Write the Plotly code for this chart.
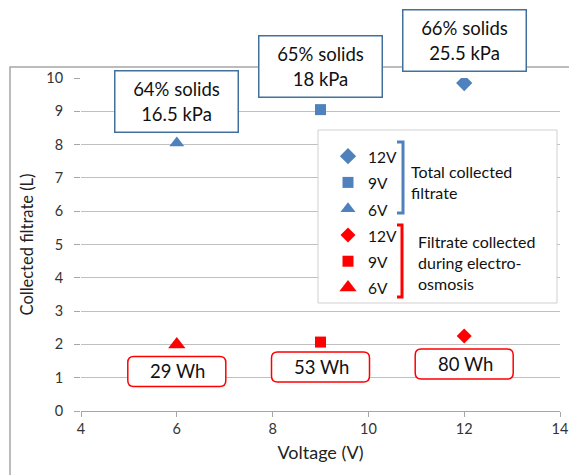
import plotly.graph_objects as go

# ---- data ----
voltages = [6, 9, 12]
total_filtrate = [8.05, 9.05, 9.85]          # L, total collected filtrate
eo_filtrate = [2.0, 2.07, 2.25]              # L, collected during electro-osmosis
voltage_labels = ["6V", "9V", "12V"]
solids_labels = ["64% solids<br>16.5 kPa", "65% solids<br>18 kPa", "66% solids<br>25.5 kPa"]
energy_labels = ["29 Wh", "53 Wh", "80 Wh"]

# ---- styling ----
FONT = "Lato"
BLUE = "#4f81bd"
RED = "#ff0000"
symbols = {"6V": "triangle-up", "9V": "square", "12V": "diamond"}
sizes_blue = {"6V": 13, "9V": 11, "12V": 12.5}
sizes_red = {"6V": 15, "9V": 11, "12V": 11.5}

W, H = 569, 475
ML, MR, MT, MB = 81, 9, 78, 64
PW, PH = W - ML - MR, H - MT - MB


def px2x(px):
    return (px - ML) / PW


def py2y(py):
    return (H - MB - py) / PH


fig = go.Figure()

order = [2, 1, 0]  # legend order 12V, 9V, 6V
for i in order:
    lab = voltage_labels[i]
    fig.add_trace(go.Scatter(
        x=[voltages[i]], y=[total_filtrate[i]], mode="markers",
        marker=dict(symbol=symbols[lab], size=sizes_blue[lab], color=BLUE),
        name=f"<span style='font-size:15.5px'>{lab}</span>"))
for i in order:
    lab = voltage_labels[i]
    fig.add_trace(go.Scatter(
        x=[voltages[i]], y=[eo_filtrate[i]], mode="markers",
        marker=dict(symbol=symbols[lab], size=sizes_red[lab], color=RED),
        name=f"<span style='font-size:15.5px'>{lab}</span>"))

shapes = []
annotations = []

# outer chart frame
shapes.append(dict(type="rect", xref="paper", yref="paper",
                   x0=px2x(10), x1=px2x(590), y0=py2y(500), y1=py2y(67),
                   line=dict(color="#a6a6a6", width=1.5), layer="below"))

# legend box
shapes.append(dict(type="rect", xref="paper", yref="paper",
                   x0=px2x(318), x1=px2x(557), y0=py2y(303), y1=py2y(130),
                   line=dict(color="#d0d0d0", width=1), fillcolor="white", layer="above"))


def bracket(xl, xr, yt, yb):
    return (f"M{px2x(xl)},{py2y(yt)} L{px2x(xr)},{py2y(yt)} "
            f"L{px2x(xr)},{py2y(yb)} L{px2x(xl)},{py2y(yb)}")


shapes.append(dict(type="path", xref="paper", yref="paper", path=bracket(397, 403, 142, 213),
                   line=dict(color=BLUE, width=3), layer="above"))
shapes.append(dict(type="path", xref="paper", yref="paper", path=bracket(397, 402, 225, 297),
                   line=dict(color=RED, width=3), layer="above"))

annotations.append(dict(xref="paper", yref="paper", x=px2x(409), y=py2y(181.5),
                        xanchor="left", yanchor="middle", align="left", showarrow=False,
                        text="Total collected<br>filtrate",
                        font=dict(family=FONT, size=16, color="#111")))
annotations.append(dict(xref="paper", yref="paper", x=px2x(416), y=py2y(262.5),
                        xanchor="left", yanchor="middle", align="left", showarrow=False,
                        text="Filtrate collected<br>during electro-<br>osmosis",
                        font=dict(family=FONT, size=16, color="#111")))

# blue boxed labels above total-filtrate points
blue_shift = [41, 43, 43]
for i in range(3):
    annotations.append(dict(x=voltages[i], y=total_filtrate[i], xref="x", yref="y",
                            yshift=blue_shift[i], showarrow=False, text=solids_labels[i],
                            font=dict(family=FONT, size=18.5, color="#111"),
                            bgcolor="white", bordercolor="#41719c", borderwidth=1.5,
                            width=120, height=58, align="center"))

# red rounded boxes below electro-osmosis points
red_shift = [-27, -25, -28]
hw, hh, r = 49, 15, 6
for i in range(3):
    c = red_shift[i]
    t, b = c + hh, c - hh
    path = (f"M{-hw + r},{t} L{hw - r},{t} Q{hw},{t} {hw},{t - r} "
            f"L{hw},{b + r} Q{hw},{b} {hw - r},{b} L{-hw + r},{b} "
            f"Q{-hw},{b} {-hw},{b + r} L{-hw},{t - r} Q{-hw},{t} {-hw + r},{t} Z")
    shapes.append(dict(type="path", xref="x", yref="y", xsizemode="pixel", ysizemode="pixel",
                       xanchor=voltages[i], yanchor=eo_filtrate[i], path=path,
                       line=dict(color=RED, width=1.5), fillcolor="white", layer="above"))
    annotations.append(dict(x=voltages[i], y=eo_filtrate[i], xref="x", yref="y",
                            yshift=c, xshift=1, showarrow=False, text=energy_labels[i],
                            font=dict(family=FONT, size=18.5, color="#111")))

fig.update_layout(
    width=W, height=H,
    margin=dict(l=ML, r=MR, t=MT, b=MB, autoexpand=False),
    paper_bgcolor="white", plot_bgcolor="white",
    font=dict(family=FONT, color="#333"),
    shapes=shapes, annotations=annotations,
    showlegend=True,
    legend=dict(x=px2x(328), y=py2y(138), xanchor="left", yanchor="top",
                bgcolor="rgba(0,0,0,0)", borderwidth=0,
                font=dict(family=FONT, size=17.9, color="#111"), traceorder="normal"),
    xaxis=dict(range=[4, 14], dtick=2, tick0=4, showgrid=False, zeroline=False,
               showline=True, linecolor="#a6a6a6", linewidth=1,
               ticks="outside", ticklen=5, tickcolor="#a6a6a6",
               tickfont=dict(family=FONT, size=14.5, color="#333"),
               title=dict(text="Voltage (V)", standoff=9,
                          font=dict(family=FONT, size=18, color="#222"))),
    yaxis=dict(range=[0, 10], dtick=1, tick0=0, showgrid=True, gridcolor="#c0c0c0",
               gridwidth=1, zeroline=False, showline=False,
               ticks="outside", ticklen=6, tickcolor="#a6a6a6",
               ticklabelstandoff=8,
               tickfont=dict(family=FONT, size=14.5, color="#333"),
               title=dict(text="Collected filtrate (L)", standoff=8,
                          font=dict(family=FONT, size=16.5, color="#222"))),
)

fig.write_html("out.html")
